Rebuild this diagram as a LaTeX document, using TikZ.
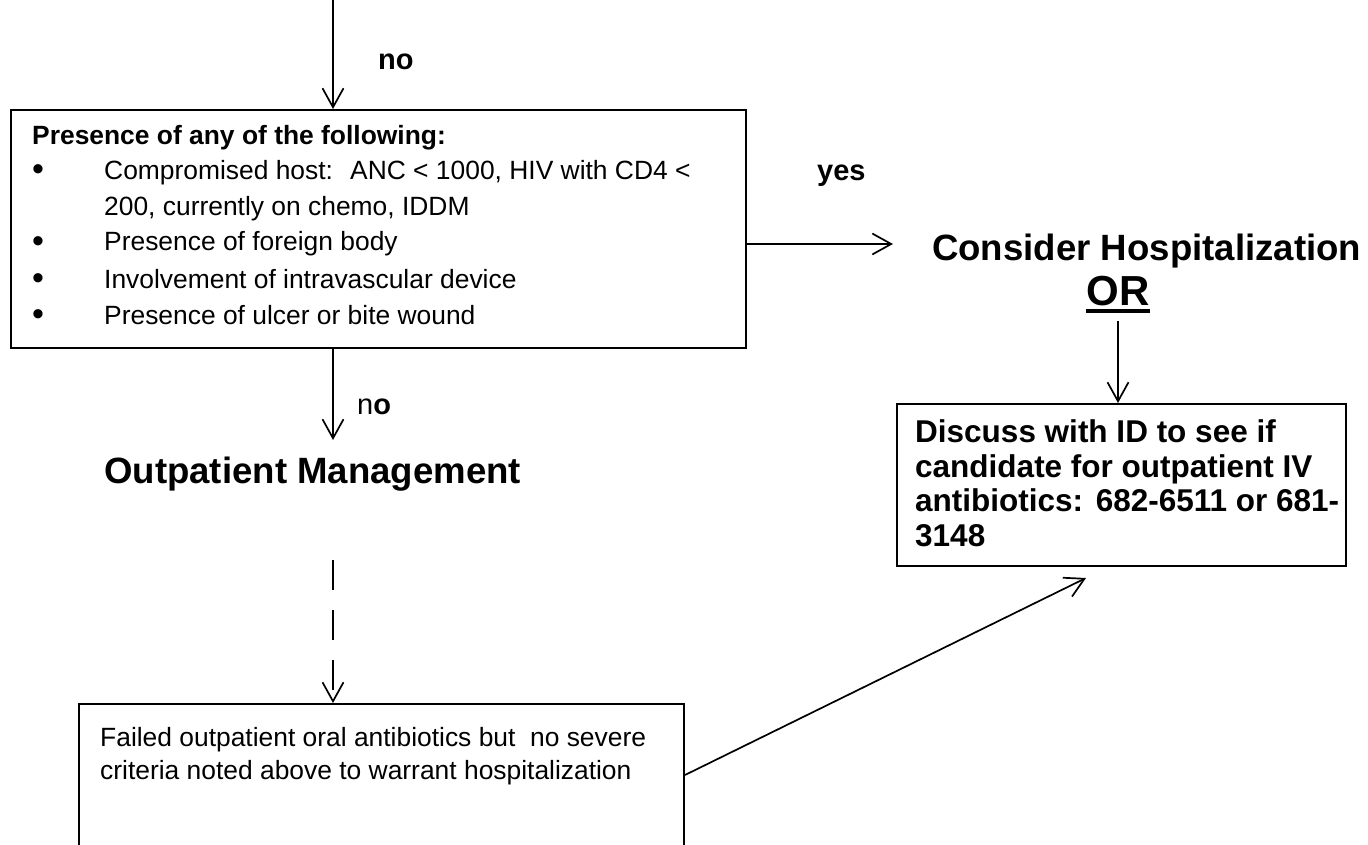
\documentclass[tikz,border=0pt]{standalone}
\usepackage{fontspec}
\setmainfont{Liberation Sans}
\usetikzlibrary{arrows.meta}
\newcommand\fsz[1]{\fontsize{#1}{#1}\selectfont}
\begin{document}
\begin{tikzpicture}[x=1pt,y=-1pt,
  box/.style={draw, line width=2pt, inner sep=0pt, anchor=north west},
  conn/.style={line width=1.7pt, -{Straight Barb[length=19pt,width=21pt,line width=1.7pt]}},
  txt/.style={anchor=base west, inner sep=0pt, font=\fsz{26.4}},
  btxt/.style={anchor=base west, inner sep=0pt, font=\bfseries\fsz{31.5}},
  bul/.style={anchor=base, inner sep=0pt, font=\fsz{34}},
  lbl/.style={anchor=base west, inner sep=0pt, font=\bfseries\fsz{29}},
  big/.style={anchor=base west, inner sep=0pt, font=\bfseries\fsz{36.6}}]
\useasboundingbox (0,0) rectangle (1368,845);
\clip (0,0) rectangle (1368,845);
\fill[white] (0,0) rectangle (1368,845);

% boxes
\node[box, minimum width=735pt, minimum height=238pt] (b1) at (10,109) {};
\node[box, minimum width=449pt, minimum height=162pt] (b2) at (896,403) {};
\node[box, minimum width=605pt, minimum height=170pt] (b3) at (78,703) {};

% box 1 text
\node[anchor=base west, inner sep=0pt, font=\bfseries\fsz{26.4}] (h1) at (32,145) {Presence of any of the following:};
\node[bul] (u1) at (38,181) {\textbullet};
\node[txt] (t1) at (104,180) {Compromised host:~ ANC < 1000, HIV with CD4 <};
\node[txt] (t1b) at (104,216) {200, currently on chemo, IDDM};
\node[bul] (u2) at (38,252) {\textbullet};
\node[txt] (t2) at (104,251) {Presence of foreign body};
\node[bul] (u3) at (38,289) {\textbullet};
\node[txt] (t3) at (104,288) {Involvement of intravascular device};
\node[bul] (u4) at (38,325) {\textbullet};
\node[txt] (t4) at (104,324) {Presence of ulcer or bite wound};

% box 2 text
\node[btxt] (d1) at (915,442) {Discuss with ID to see if};
\node[btxt] (d2) at (915,477) {candidate for outpatient IV};
\node[btxt] (d3) at (915,511) {antibiotics:\hspace{0.4em}682-6511 or 681-};
\node[btxt] (d4) at (915,546) {3148};

% box 3 text
\node[txt] (f1) at (100,746) {Failed outpatient oral antibiotics but~ no severe};
\node[txt] (f2) at (100,779) {criteria noted above to warrant hospitalization};

% labels
\node[lbl] (no1) at (378,70) {no};
\node[lbl] (yes) at (817,181) {yes};
\node[anchor=base west, inner sep=0pt, font=\fsz{29}] (no2) at (357,414) {n\textbf{o}};
\node[big] (hosp) at (932,261) {Consider Hospitalization};
\node[anchor=base, inner sep=0pt, font=\bfseries\fsz{42}] (or) at (1118,305) {OR};
\draw[line width=4pt] ([yshift=-6pt]or.base west) -- ([yshift=-6pt]or.base east);
\node[big] (outp) at (104,483) {Outpatient Management};

% connectors
\coordinate (top) at (333,0);
\coordinate (a2) at (333,440);
\coordinate (ds) at (333,560);
\coordinate (ah) at (893,244);
\coordinate (os) at (1118,321);
\coordinate (dt) at (1086,578);
\draw[conn] (top) -- (top |- b1.north);
\draw[conn] (b1.east |- ah) -- (ah);
\draw[conn] (os) -- (os |- b2.north);
\draw[conn] (top |- b1.south) -- (a2);
\draw[conn, dash pattern=on 30pt off 20pt] (ds) -- (ds |- b3.north);
\draw[conn] ([yshift=-72pt]b3.north east) -- (dt);
\end{tikzpicture}
\end{document}
